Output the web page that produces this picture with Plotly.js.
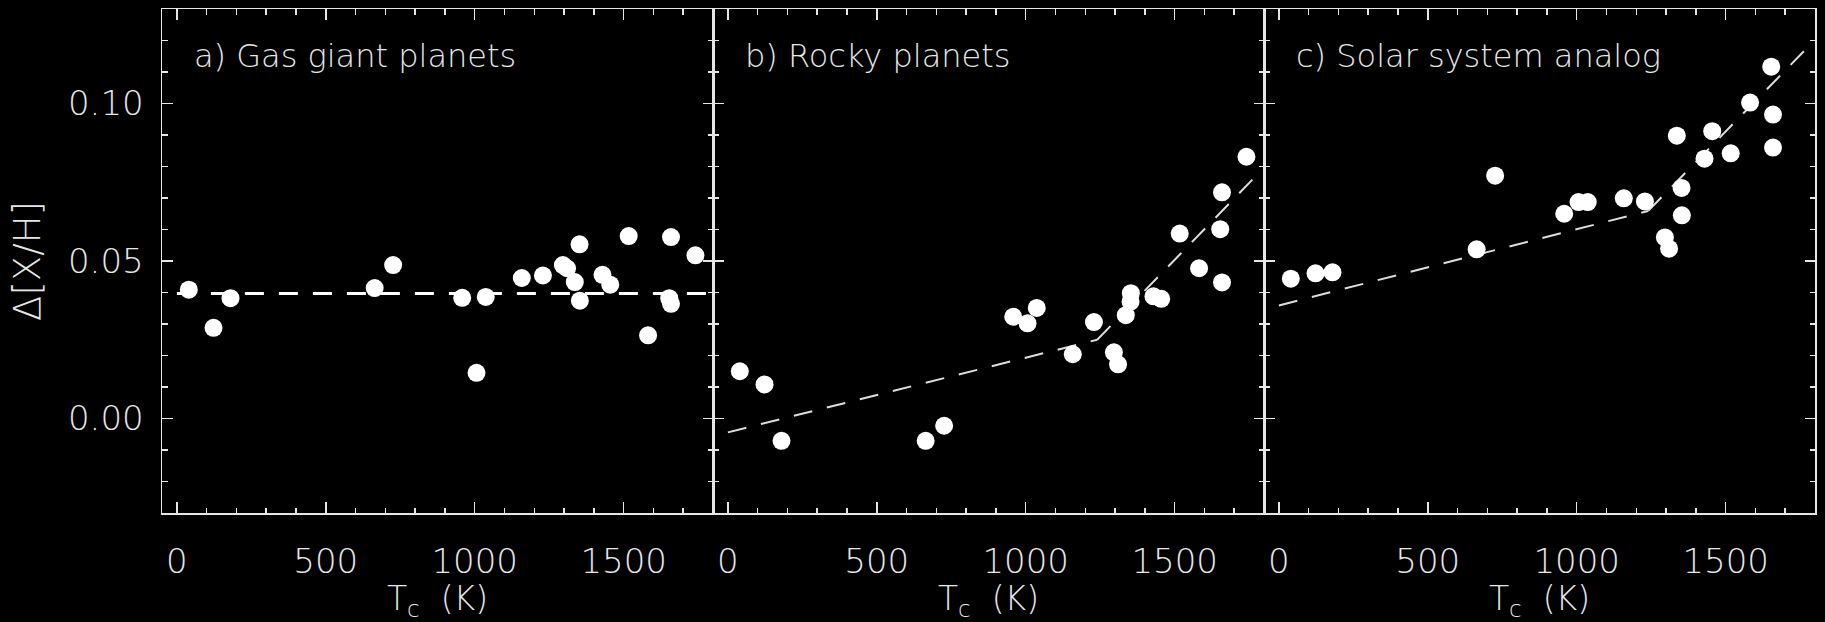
<!DOCTYPE html>
<html>
<head>
<meta charset="utf-8">
<script src="https://cdn.plot.ly/plotly-3.0.1.min.js"></script>
<style>html,body{margin:0;padding:0;background:#000;}#plot{width:1825px;height:622px;}</style>
</head>
<body>
<div id="plot"></div>
<script>
// Condensation temperatures (K)
const tc = [40, 123, 180, 664, 726, 958, 1006, 1037, 1158, 1229, 1296, 1310, 1336, 1352, 1353, 1429, 1455, 1517, 1582, 1653, 1659, 1659, 1741];
// a) Gas giant planets
const gasGiant = [0.0409, 0.0288, 0.0382, 0.0414, 0.0487, 0.0383, 0.0145, 0.0386, 0.0446, 0.0454, 0.0487, 0.0477, 0.0433, 0.0553, 0.0374, 0.0456, 0.0425, 0.0579, 0.0264, 0.0382, 0.0576, 0.0364, 0.0518];
// b) Rocky planets
const rocky = [0.0150, 0.0108, -0.0071, -0.0071, -0.0023, 0.0323, 0.0302, 0.0351, 0.0204, 0.0306, 0.0210, 0.0172, 0.0328, 0.0371, 0.0398, 0.0388, 0.0380, 0.0587, 0.0477, 0.0601, 0.0718, 0.0432, 0.0831];
// c) Solar system analog
const solarAnalog = [0.0444, 0.0461, 0.0464, 0.0537, 0.0771, 0.0650, 0.0687, 0.0687, 0.0699, 0.0689, 0.0575, 0.0539, 0.0898, 0.0732, 0.0645, 0.0825, 0.0912, 0.0842, 0.1003, 0.1117, 0.0965, 0.0860, null];

// Fit lines
const fitA_x = [0, 1800], fitA_y = [0.0397, 0.0397];
const fitB1_x = [0, 1240], fitB1_y = [-0.0044, 0.0250];
const fitB2_x = [1240, 1770], fitB2_y = [0.0250, 0.0767];
const fitC1_x = [0, 1240], fitC1_y = [0.0359, 0.0659];
const fitC2_x = [1240, 1770], fitC2_y = [0.0659, 0.1173];

const panelLabels = ['a) Gas giant planets', 'b) Rocky planets', 'c) Solar system analog'];
const xTitle = 'T<sub>c</sub>  (K)';
const yTitle = 'Δ[X/H]';

const FONT = 'DejaVu Sans';
const W = 200;
const FG = '#e6e6e6';

function pts(xa, ya, y) {
  return {x: tc, y: y, xaxis: xa, yaxis: ya, type: 'scatter', mode: 'markers',
    marker: {color: '#ffffff', size: 18, line: {width: 0}}, showlegend: false, hoverinfo: 'skip'};
}
function fit(xa, ya, x, y, w, c) {
  return {x: x, y: y, xaxis: xa, yaxis: ya, type: 'scatter', mode: 'lines',
    line: {color: c, width: w, dash: '19px,15px'}, showlegend: false, hoverinfo: 'skip'};
}

const data = [
  fit('x', 'y', fitA_x, fitA_y, 3, '#ffffff'),
  pts('x', 'y', gasGiant),
  fit('x2', 'y2', fitB1_x, fitB1_y, 2, '#dddddd'),
  fit('x2', 'y2', fitB2_x, fitB2_y, 2, '#dddddd'),
  pts('x2', 'y2', rocky),
  fit('x3', 'y3', fitC1_x, fitC1_y, 2, '#dddddd'),
  fit('x3', 'y3', fitC2_x, fitC2_y, 2, '#dddddd'),
  pts('x3', 'y3', solarAnalog)
];

function xax(dom, anchor) {
  return {
    domain: dom, anchor: anchor, range: [-50, 1800], tick0: 0, dtick: 500,
    ticks: 'inside', ticklen: 11, tickwidth: 1.5, tickcolor: FG,
    showline: true, linecolor: FG, linewidth: 1.5, mirror: 'ticks',
    showgrid: false, zeroline: false, automargin: true,
    minor: {tick0: 0, dtick: 100, ticks: 'inside', ticklen: 5.5, tickwidth: 1.5, tickcolor: FG, showgrid: false},
    tickfont: {family: FONT, size: 34, color: FG, weight: W},
    ticklabelstandoff: 18,
    title: {text: xTitle, font: {family: FONT, size: 33, color: FG, weight: W}, standoff: 10}
  };
}
function yax(anchor, labels) {
  const ax = {
    anchor: anchor, range: [-0.03, 0.13], tick0: 0, dtick: 0.05, tickformat: '.2f',
    ticks: 'inside', ticklen: 10.5, tickwidth: 1.5, tickcolor: FG,
    showline: true, linecolor: FG, linewidth: 1.5, mirror: 'ticks',
    showgrid: false, zeroline: false, showticklabels: labels,
    minor: {tick0: 0, dtick: 0.01, ticks: 'inside', ticklen: 5.5, tickwidth: 1.5, tickcolor: FG, showgrid: false},
    tickfont: {family: FONT, size: 34, color: FG, weight: W},
    ticklabelstandoff: 10
  };
  if (labels) ax.title = {text: yTitle, font: {family: FONT, size: 37, color: FG, weight: W}, standoff: 16};
  return ax;
}

const annotations = panelLabels.map((t, i) => ({
  text: t, xref: (i === 0 ? 'x' : 'x' + (i + 1)) + ' domain', yref: (i === 0 ? 'y' : 'y' + (i + 1)) + ' domain',
  x: 0.0544, y: 0.907, xanchor: 'left', yanchor: 'middle', showarrow: false,
  font: {family: FONT, size: 32, color: FG, weight: W}
}));

const layout = {
  width: 1825, height: 622,
  margin: {l: 161.7, r: 9.7, t: 7.3, b: 106.7, pad: 0},
  paper_bgcolor: '#000000', plot_bgcolor: '#000000',
  xaxis: xax([0, 1/3], 'y'),
  xaxis2: xax([1/3, 2/3], 'y2'),
  xaxis3: xax([2/3, 1], 'y3'),
  yaxis: yax('x', true),
  yaxis2: yax('x2', false),
  yaxis3: yax('x3', false),
  annotations: annotations,
  showlegend: false
};

Plotly.newPlot('plot', data, layout, {staticPlot: true, displayModeBar: false});
</script>
</body>
</html>
